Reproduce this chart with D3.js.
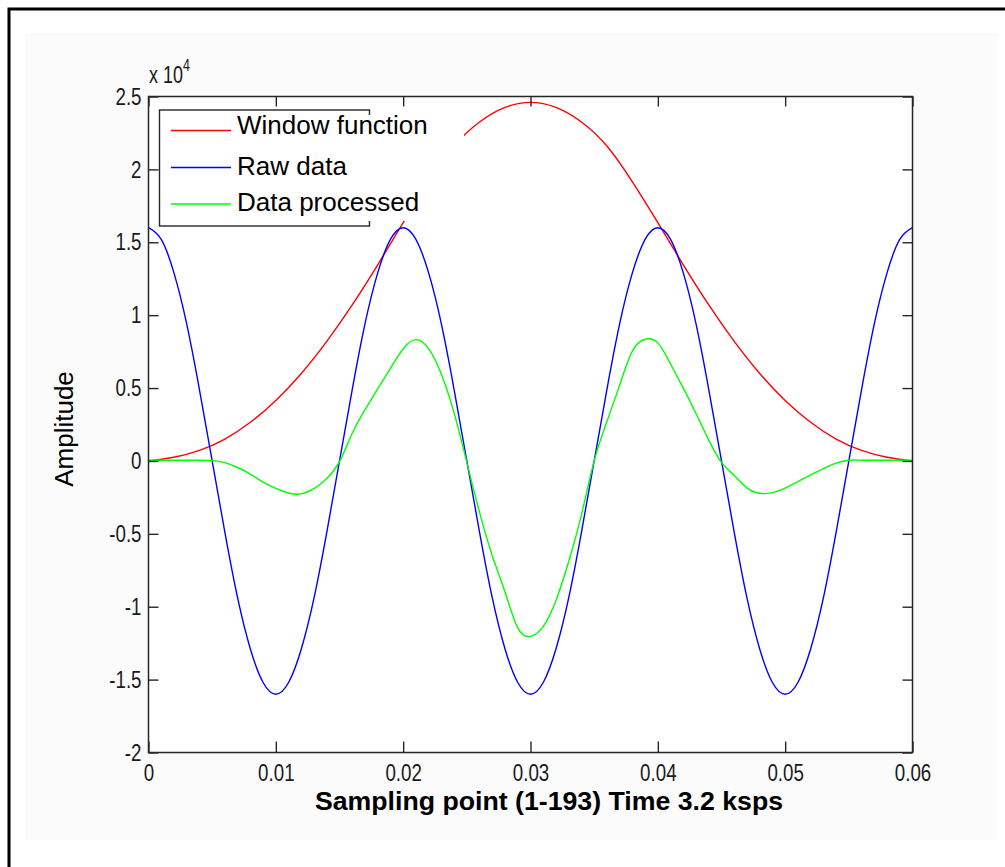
<!DOCTYPE html>
<html>
<head>
<meta charset="utf-8">
<script src="https://cdn.jsdelivr.net/npm/d3@7"></script>
<style>
  html, body { margin: 0; padding: 0; background: #ffffff; }
  svg { display: block; }
</style>
</head>
<body>
<svg id="chart" width="1005" height="867"></svg>
<script>
// ---- data -------------------------------------------------------------
// sample instants (s) for raw and processed signals
const sampleTimes = [
  0.000, 0.001, 0.002, 0.003, 0.004, 0.005, 0.006, 0.007, 0.008, 0.009,
  0.010, 0.011, 0.012, 0.013, 0.014, 0.015, 0.016, 0.017, 0.018, 0.019,
  0.020, 0.021, 0.022, 0.023, 0.024, 0.025, 0.026, 0.027, 0.028, 0.029,
  0.030, 0.031, 0.032, 0.033, 0.034, 0.035, 0.036, 0.037, 0.038, 0.039,
  0.040, 0.041, 0.042, 0.043, 0.044, 0.045, 0.046, 0.047, 0.048, 0.049,
  0.050, 0.051, 0.052, 0.053, 0.054, 0.055, 0.056, 0.057, 0.058, 0.059,
  0.060
];

// raw input signal
const rawData = [
   16000,  15200,  12900,   9400,   4900,      0,  -4900,  -9400, -12900, -15200,
  -16000, -15200, -12900,  -9400,  -4900,      0,   4900,   9400,  12900,  15200,
   16000,  15200,  12900,   9400,   4900,      0,  -4900,  -9400, -12900, -15200,
  -16000, -15200, -12900,  -9400,  -4900,      0,   4900,   9400,  12900,  15200,
   16000,  15200,  12900,   9400,   4900,      0,  -4900,  -9400, -12900, -15200,
  -16000, -15200, -12900,  -9400,  -4900,      0,   4900,   9400,  12900,  15200,
   16000
];

// signal after windowing
const processedData = [
     50,     50,     50,     50,     50,     20,   -120,   -450,   -900,  -1450,
  -1880,  -2200,  -2260,  -1900,  -1200,    -50,   1900,   3500,   4950,   6350,
   7700,   8320,   7700,   5950,   3300,   -100,  -3530,  -6500,  -8990, -11450,
 -12040, -11350,  -9570,  -6900,  -3700,      0,   2700,   5200,   7530,   8350,
   8100,   6650,   5000,   3250,   1430,   -100,  -1000,  -1850,  -2220,  -2170,
  -1860,  -1420,   -960,   -520,   -150,     50,     50,     50,     50,     50,
     50
];

// window function, sampled more coarsely
const windowTimes = [
  0.000, 0.002, 0.004, 0.006, 0.008, 0.010, 0.012, 0.014, 0.016, 0.018,
  0.020, 0.022, 0.024, 0.026, 0.028, 0.030, 0.032, 0.034, 0.036, 0.038,
  0.040, 0.042, 0.044, 0.046, 0.048, 0.050, 0.052, 0.054, 0.056, 0.058,
  0.060
];
const windowData = [
      0,    250,    720,   1500,   2650,   4150,   6000,   8200,  10700,  13450,
  16350,  19150,  21600,  23250,  24250,  24600,  24250,  23250,  21600,  19150,
  16350,  13450,  10700,   8200,   6000,   4150,   2650,   1500,    720,    250,
      0
];

// axis ticks
const xTickValues = [0, 0.01, 0.02, 0.03, 0.04, 0.05, 0.06];
const xTickLabels = ["0", "0.01", "0.02", "0.03", "0.04", "0.05", "0.06"];
const yTickValues = [-20000, -15000, -10000, -5000, 0, 5000, 10000, 15000, 20000, 25000];
const yTickLabels = ["-2", "-1.5", "-1", "-0.5", "0", "0.5", "1", "1.5", "2", "2.5"];

const seriesNames = ["Window function", "Raw data", "Data processed"];
const seriesColors = ["#ff0000", "#0000ff", "#00ff00"];

// ---- layout -----------------------------------------------------------
const svg = d3.select("#chart");
const plot = { left: 148.5, right: 912.5, top: 96.5, bottom: 752.5 };
const mainFont = "'Liberation Sans', Arial, Helvetica, sans-serif";
const axisColor = "#262626";
const narrow = 0.78;   // horizontal squeeze of the tick lettering

const x = d3.scaleLinear().domain([0, 0.06]).range([plot.left, plot.right]);
const y = d3.scaleLinear().domain([-20000, 25000]).range([plot.bottom, plot.top]);

// figure background and outer frame
svg.append("rect").attr("x", 25).attr("y", 33).attr("width", 973).attr("height", 807)
  .attr("fill", "#fbfbfb");
svg.append("path")
  .attr("d", "M9,867 L9,9 L1005,9")
  .attr("fill", "none").attr("stroke", "#000").attr("stroke-width", 3);

// axes background
svg.append("rect")
  .attr("x", plot.left).attr("y", plot.top)
  .attr("width", plot.right - plot.left).attr("height", plot.bottom - plot.top)
  .attr("fill", "#ffffff");

// ---- curves -----------------------------------------------------------
const g = svg.append("g");
const line = d3.line().curve(d3.curveNatural);

const windowPts = windowTimes.map((t, i) => [x(t), y(windowData[i])]);
const rawPts = sampleTimes.map((t, i) => [x(t), y(rawData[i])]);
const procPts = sampleTimes.map((t, i) => [x(t), y(processedData[i])]);

[windowPts, rawPts, procPts].forEach((pts, i) => {
  g.append("path")
    .attr("d", line(pts))
    .attr("fill", "none")
    .attr("stroke", seriesColors[i])
    .attr("stroke-width", 1.4)
    .attr("stroke-linejoin", "round");
});

// ---- axes box and ticks --------------------------------------------------
const axisLeft = d3.axisLeft(y).tickValues(yTickValues)
  .tickFormat((d, i) => yTickLabels[i]).tickSizeInner(-10).tickSizeOuter(0).tickPadding(7);
const axisRight = d3.axisRight(y).tickValues(yTickValues)
  .tickFormat("").tickSizeInner(-10).tickSizeOuter(0);
const axisBottom = d3.axisBottom(x).tickValues(xTickValues)
  .tickFormat((d, i) => xTickLabels[i]).tickSizeInner(-11).tickSizeOuter(0).tickPadding(11);
const axisTop = d3.axisTop(x).tickValues(xTickValues)
  .tickFormat("").tickSizeInner(-10).tickSizeOuter(0);

function styleAxis(sel) {
  sel.select(".domain").remove();
  sel.selectAll(".tick line").attr("stroke", axisColor).attr("stroke-width", 1.4);
  sel.selectAll(".tick text")
    .attr("fill", "#1a1a1a")
    .attr("x", function () { return (+d3.select(this).attr("x") || 0) / narrow; })
    .attr("transform", `scale(${narrow},1)`)
    .style("font-family", mainFont)
    .style("font-size", "24px");
}

svg.append("g").attr("transform", `translate(${plot.left},0)`).call(axisLeft).call(styleAxis);
svg.append("g").attr("transform", `translate(${plot.right},0)`).call(axisRight).call(styleAxis);
svg.append("g").attr("transform", `translate(0,${plot.bottom})`).call(axisBottom).call(styleAxis);
svg.append("g").attr("transform", `translate(0,${plot.top})`).call(axisTop).call(styleAxis);

svg.append("rect")
  .attr("x", plot.left).attr("y", plot.top)
  .attr("width", plot.right - plot.left).attr("height", plot.bottom - plot.top)
  .attr("fill", "none").attr("stroke", axisColor).attr("stroke-width", 1.5);

// exponent label
const expo = svg.append("text")
  .attr("transform", `translate(149,83) scale(${narrow},1)`)
  .attr("fill", "#1a1a1a")
  .style("font-family", mainFont).style("font-size", "23px");
expo.append("tspan").text("x 10");
expo.append("tspan").attr("dy", -12).style("font-size", "16px").text("4");

// ---- legend ------------------------------------------------------------
const legend = svg.append("g");
legend.append("rect")
  .attr("x", 159.5).attr("y", 110).attr("width", 210).attr("height", 116)
  .attr("fill", "#ffffff").attr("stroke", axisColor).attr("stroke-width", 1.4);
// label background runs past the frame
legend.append("rect")
  .attr("x", 236).attr("y", 115).attr("width", 228).attr("height", 106)
  .attr("fill", "#ffffff");

const legendLineY = [130.5, 167.5, 204];
const legendTextY = [133.5, 174.5, 211];
seriesNames.forEach((name, i) => {
  legend.append("line")
    .attr("x1", 171).attr("x2", 231)
    .attr("y1", legendLineY[i]).attr("y2", legendLineY[i])
    .attr("stroke", seriesColors[i]).attr("stroke-width", 1.4);
  legend.append("text")
    .attr("x", 237).attr("y", legendTextY[i])
    .attr("fill", "#000")
    .style("font-family", mainFont).style("font-size", "26px")
    .text(name);
});

// ---- axis titles ---------------------------------------------------------
svg.append("text")
  .attr("transform", "translate(73,429) rotate(-90)")
  .attr("text-anchor", "middle")
  .attr("fill", "#000")
  .style("font-family", mainFont).style("font-size", "26px")
  .text("Amplitude");

svg.append("text")
  .attr("x", 549).attr("y", 810)
  .attr("text-anchor", "middle")
  .attr("fill", "#000")
  .style("font-family", mainFont).style("font-size", "26.7px").style("font-weight", "bold")
  .text("Sampling point (1-193) Time 3.2 ksps");
</script>
</body>
</html>
